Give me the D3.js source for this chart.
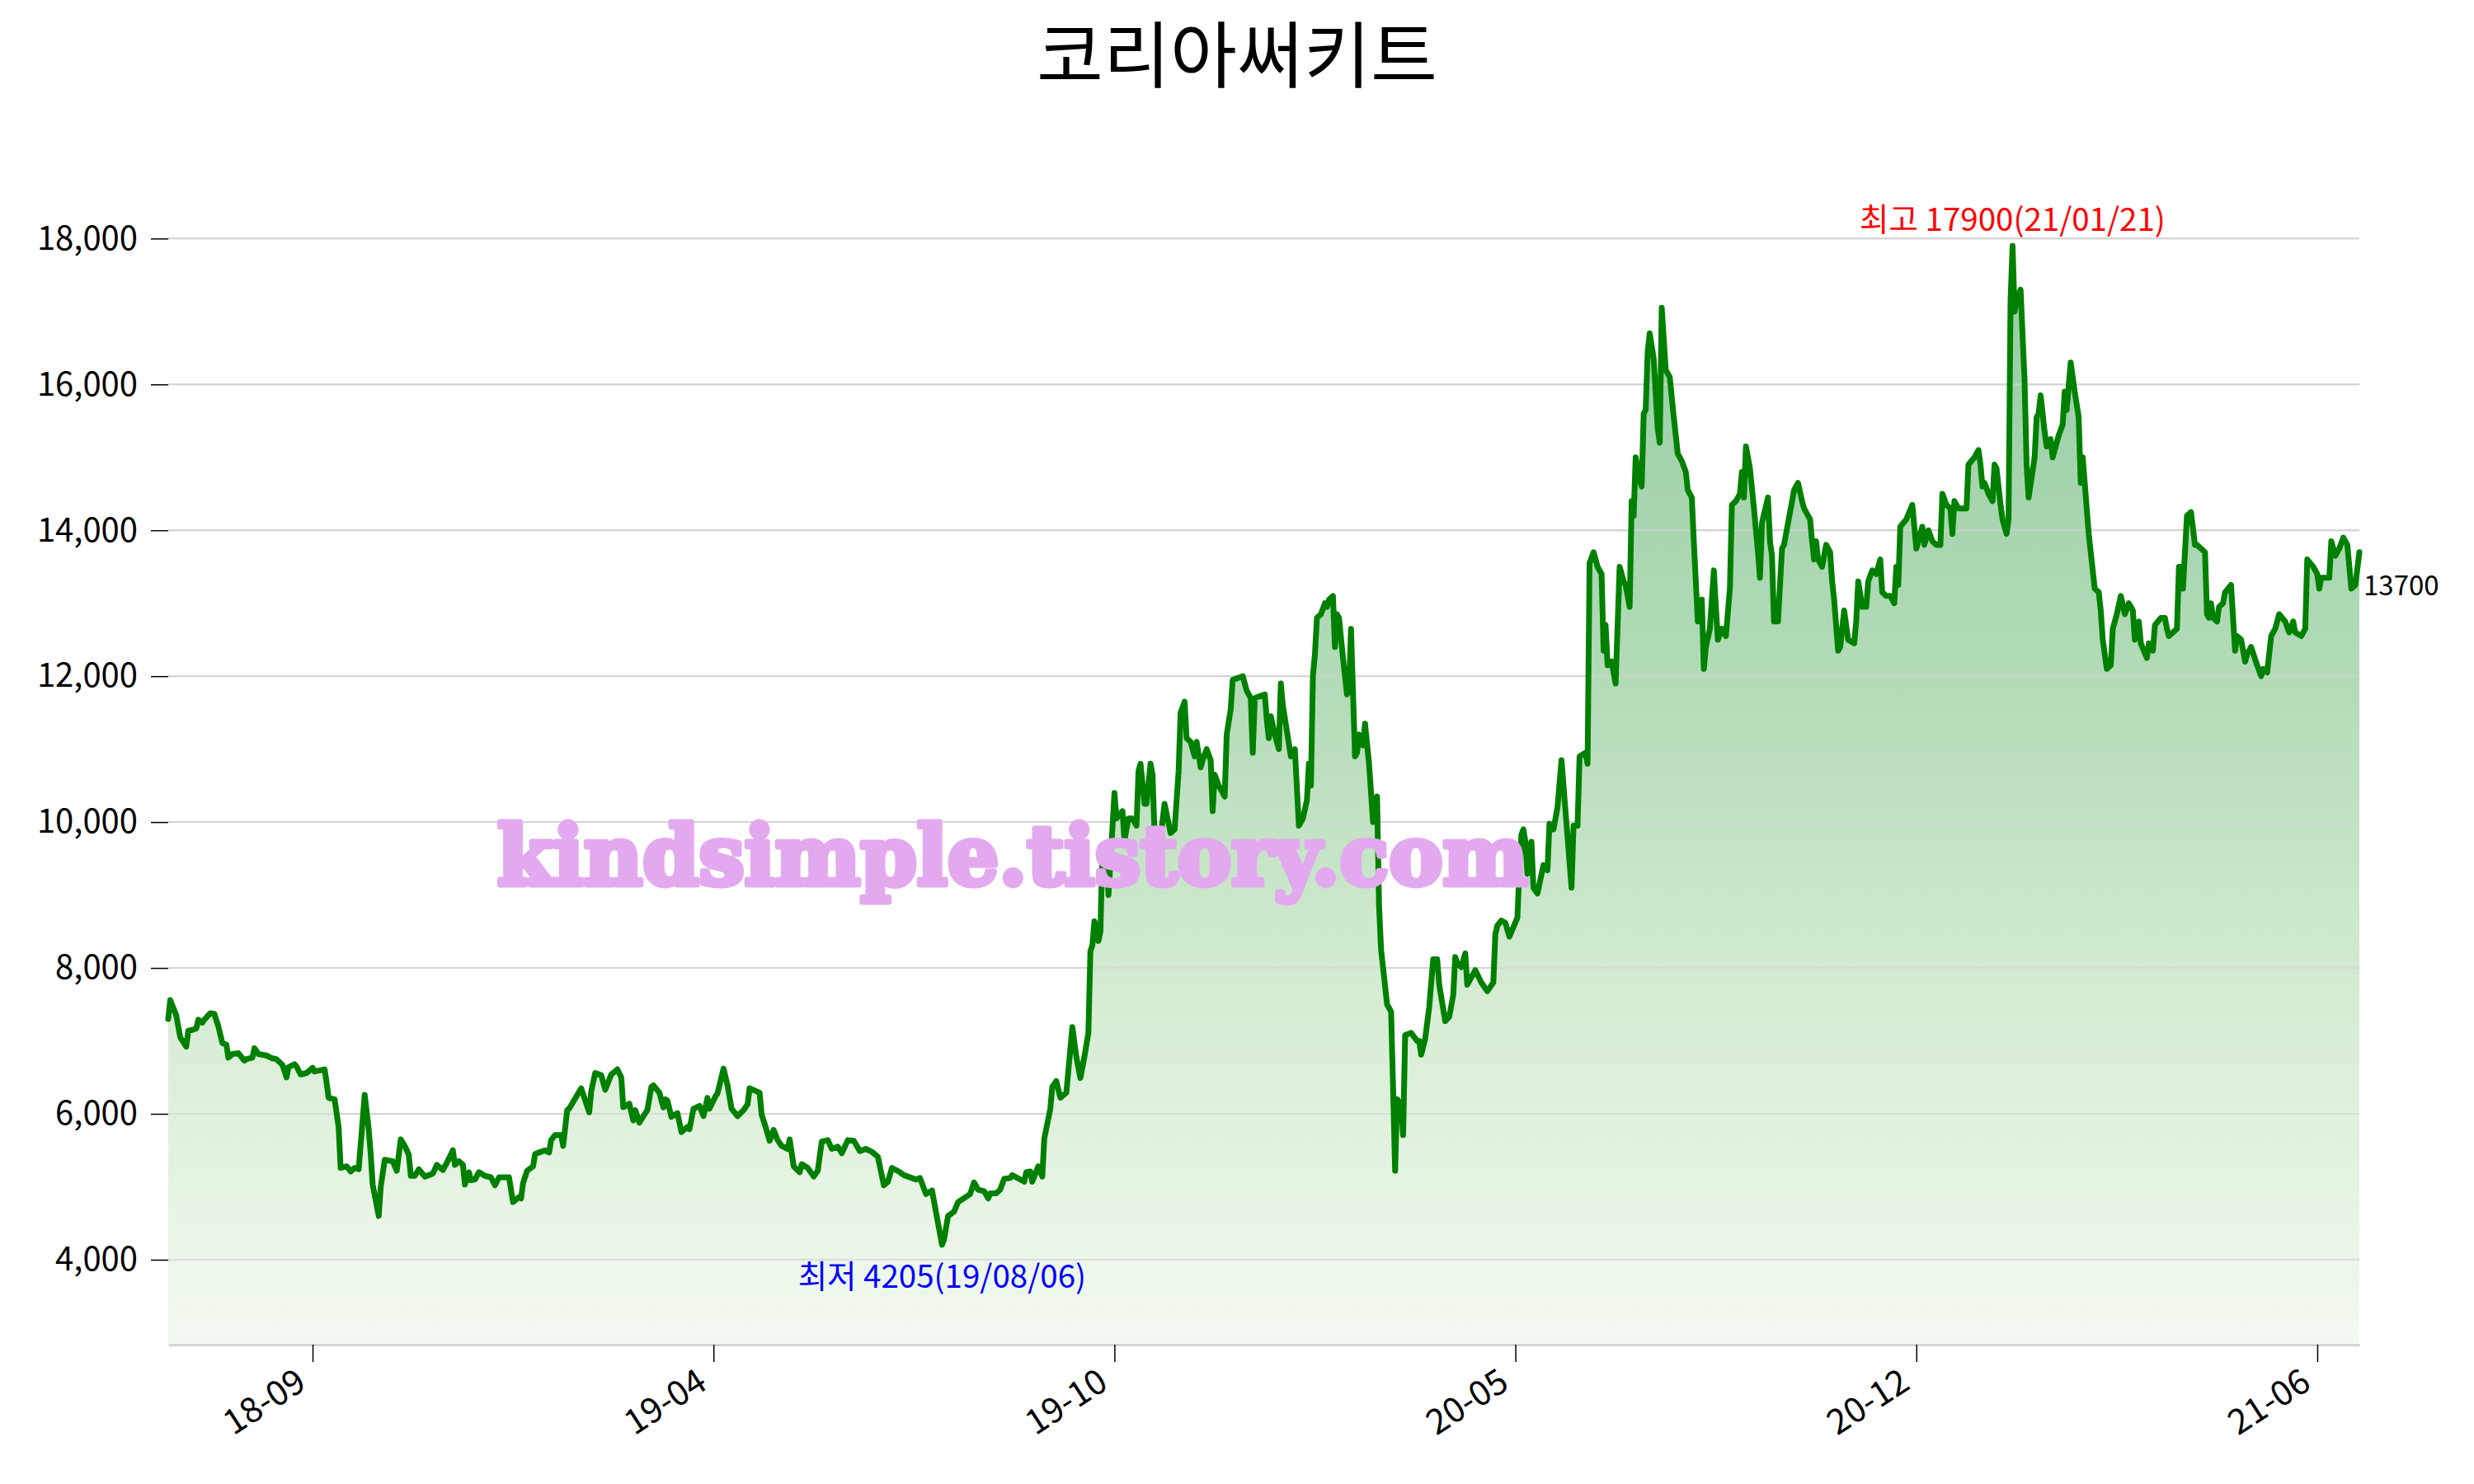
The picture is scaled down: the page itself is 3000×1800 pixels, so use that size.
<!DOCTYPE html>
<html>
<head>
<meta charset="utf-8">
<script src="https://cdn.jsdelivr.net/npm/d3@7"></script>
<style>
  html, body { margin: 0; padding: 0; background: #fff; overflow: hidden; }
  svg { display: block; font-family: "Noto Sans CJK KR", "Noto Sans", sans-serif; }
</style>
</head>
<body>
<svg width="3000" height="1800"></svg>
<script>
const title = '코리아써키트';
const watermark = 'kindsimple.tistory.com';

// closing prices, one pair of arrays per year
const dates2018 = [
  '18-07-16','18-07-17','18-07-20','18-07-22','18-07-25','18-07-26','18-07-28','18-07-30','18-07-31',
  '18-08-02','18-08-03','18-08-06','18-08-08','18-08-10','18-08-12','18-08-14','18-08-15','18-08-17','18-08-20','18-08-23','18-08-24','18-08-27','18-08-28','18-08-30',
  '18-09-03','18-09-06','18-09-08','18-09-11','18-09-13','18-09-14','18-09-17','18-09-18','18-09-20','18-09-23','18-09-26','18-09-27',
  '18-10-02','18-10-03','18-10-04','18-10-07','18-10-09','18-10-10','18-10-13','18-10-15','18-10-17','18-10-19','18-10-22','18-10-24','18-10-25','18-10-26','18-10-29','18-10-30',
  '18-11-01','18-11-05','18-11-07','18-11-09','18-11-11','18-11-13','18-11-14','18-11-16','18-11-18','18-11-21','18-11-23','18-11-25','18-11-27','18-11-30',
  '18-12-02','18-12-05','18-12-06','18-12-08','18-12-10','18-12-11','18-12-13','18-12-14','18-12-16','18-12-18','18-12-21','18-12-24','18-12-26','18-12-28'
];
const prices2018 = [
  7300,7560,7350,7050,6920,7140,7150,7170,7290,
  7250,7290,7380,7370,7200,6970,6950,6770,6820,6830,6730,6750,6770,6900,6820,
  6800,6760,6750,6670,6500,6640,6680,6650,6540,6560,6630,6580,
  6610,6430,6220,6200,5820,5260,5280,5210,5260,5240,6260,5790,5450,5030,4600,5000,
  5370,5350,5220,5650,5560,5440,5150,5150,5240,5140,5160,5180,5300,5230,
  5330,5500,5300,5350,5300,5030,5200,5090,5100,5200,5150,5130,5020,5130
];

const dates2019 = [
  '19-01-02','19-01-04','19-01-07','19-01-08','19-01-09','19-01-11','19-01-14','19-01-15','19-01-17','19-01-20','19-01-22','19-01-23','19-01-25','19-01-28','19-01-29','19-01-31',
  '19-02-01','19-02-07','19-02-11','19-02-12','19-02-14','19-02-17','19-02-19','19-02-22','19-02-25','19-02-27','19-02-28',
  '19-03-03','19-03-05','19-03-06','19-03-08','19-03-11','19-03-12','19-03-14','19-03-15','19-03-18','19-03-20','19-03-21','19-03-22','19-03-24','19-03-27','19-03-29',
  '19-04-01','19-04-02','19-04-04','19-04-07','19-04-09','19-04-11','19-04-12','19-04-15','19-04-16','19-04-19','19-04-21','19-04-23','19-04-26','19-04-29',
  '19-05-01','19-05-02','19-05-07','19-05-08','19-05-10','19-05-12','19-05-14','19-05-16','19-05-18','19-05-21','19-05-22','19-05-24','19-05-27','19-05-28','19-05-31',
  '19-06-03','19-06-05','19-06-07','19-06-10','19-06-12','19-06-15','19-06-17','19-06-20','19-06-23','19-06-26','19-06-29',
  '19-07-02','19-07-05','19-07-08','19-07-10','19-07-12','19-07-16','19-07-18','19-07-24','19-07-26','19-07-29',
  '19-08-01','19-08-04','19-08-06','19-08-07','19-08-09','19-08-12','19-08-14','19-08-20','19-08-22','19-08-24','19-08-27','19-08-29','19-08-30',
  '19-09-02','19-09-04','19-09-06','19-09-09','19-09-10','19-09-16','19-09-17','19-09-19','19-09-20','19-09-23','19-09-25','19-09-26','19-09-29','19-09-30',
  '19-10-02','19-10-04','19-10-07','19-10-10','19-10-12','19-10-14','19-10-16','19-10-18','19-10-19','19-10-20','19-10-21','19-10-23','19-10-24','19-10-25','19-10-27','19-10-28','19-10-29','19-10-31',
  '19-11-01','19-11-04','19-11-05','19-11-07','19-11-09','19-11-11','19-11-12','19-11-13','19-11-15','19-11-16','19-11-18','19-11-19','19-11-20','19-11-23','19-11-25','19-11-28','19-11-30',
  '19-12-02','19-12-03','19-12-05','19-12-06','19-12-08','19-12-10','19-12-11','19-12-13','19-12-14','19-12-16','19-12-18','19-12-19','19-12-20','19-12-22','19-12-25','19-12-26','19-12-28','19-12-29'
];
const prices2019 = [
  5130,4790,4860,4840,5050,5220,5280,5450,5470,5500,5470,5640,5710,5710,5560,6050,
  6070,6350,6020,6310,6560,6530,6330,6540,6610,6500,6090,
  6140,5910,6050,5880,6010,6050,6370,6390,6290,6090,6200,6180,5960,6010,5750,
  5820,5790,6070,6110,5970,6220,6070,6240,6280,6620,6390,6070,5970,6050,
  6130,6350,6290,5990,5820,5630,5780,5640,5560,5520,5650,5280,5200,5310,5260,
  5140,5220,5620,5640,5520,5550,5460,5640,5630,5490,5520,
  5480,5410,5020,5070,5260,5200,5160,5100,5120,4900,
  4950,4500,4205,4280,4600,4660,4790,4900,5060,4960,4940,4840,4910,
  4910,4960,5110,5120,5160,5070,5200,5210,5070,5280,5140,5660,6070,6370,
  6450,6220,6290,7190,6780,6490,6780,7110,8230,8310,8640,8370,8500,9630,9570,9000,9440,10400,
  10050,10150,9750,10050,10050,9950,10700,10800,10250,10250,10800,10650,9850,9800,10250,9850,9900,
  10700,11500,11650,11150,11100,10900,11100,10750,10850,11000,10850,10150,10650,10500,10350,11200,11550,11950
];

const dates2020 = [
  '20-01-03','20-01-05','20-01-07','20-01-08','20-01-09','20-01-14','20-01-15','20-01-16','20-01-17','20-01-19','20-01-21','20-01-22','20-01-23','20-01-25','20-01-27','20-01-29','20-01-31',
  '20-02-02','20-02-04','20-02-05','20-02-06','20-02-07','20-02-08','20-02-09','20-02-11','20-02-13','20-02-14','20-02-15','20-02-17','20-02-18','20-02-19','20-02-20','20-02-22','20-02-24','20-02-25','20-02-26','20-02-28','20-02-29',
  '20-03-01','20-03-03','20-03-04','20-03-06','20-03-07','20-03-08','20-03-10','20-03-11','20-03-12','20-03-14','20-03-15','20-03-17','20-03-18','20-03-19','20-03-20','20-03-22','20-03-23','20-03-24','20-03-27','20-03-30','20-03-31',
  '20-04-01','20-04-03','20-04-05','20-04-07','20-04-09','20-04-10','20-04-13','20-04-15','20-04-17','20-04-18','20-04-19','20-04-21','20-04-23','20-04-24','20-04-28',
  '20-05-01','20-05-04','20-05-07','20-05-08','20-05-09','20-05-11','20-05-13','20-05-15','20-05-19','20-05-20','20-05-21','20-05-22','20-05-23','20-05-24','20-05-26','20-05-27','20-05-29',
  '20-06-01','20-06-03','20-06-04','20-06-06','20-06-08','20-06-10','20-06-15','20-06-16','20-06-18','20-06-19','20-06-22','20-06-23','20-06-24','20-06-26','20-06-28','20-06-30',
  '20-07-01','20-07-02','20-07-03','20-07-05','20-07-07','20-07-09','20-07-11','20-07-12','20-07-14','20-07-15','20-07-16','20-07-17','20-07-19','20-07-20','20-07-21','20-07-22','20-07-23','20-07-24','20-07-26','20-07-28','20-07-29','20-07-30',
  '20-08-01','20-08-03','20-08-05','20-08-07','20-08-09','20-08-11','20-08-12','20-08-14','20-08-15','20-08-17','20-08-19','20-08-20','20-08-21','20-08-23','20-08-25','20-08-26','20-08-27','20-08-29','20-08-31',
  '20-09-02','20-09-03','20-09-05','20-09-07','20-09-08','20-09-09','20-09-10','20-09-12','20-09-14','20-09-16','20-09-17','20-09-18','20-09-21','20-09-22','20-09-23','20-09-24','20-09-26','20-09-28','20-09-29',
  '20-10-01','20-10-04','20-10-06','20-10-08','20-10-09','20-10-12','20-10-13','20-10-14','20-10-15','20-10-16','20-10-18','20-10-20','20-10-22','20-10-23','20-10-24','20-10-26','20-10-27','20-10-29','20-10-31',
  '20-11-03','20-11-04','20-11-05','20-11-07','20-11-09','20-11-10','20-11-12','20-11-14','20-11-16','20-11-17','20-11-19','20-11-21','20-11-23','20-11-24','20-11-25','20-11-26','20-11-29',
  '20-12-02','20-12-04','20-12-07','20-12-08','20-12-10','20-12-12','20-12-14','20-12-16','20-12-17','20-12-19','20-12-21','20-12-22','20-12-23','20-12-25','20-12-29','20-12-30'
];
const prices2020 = [
  12000,11800,11700,10950,11700,11750,11400,11150,11450,11200,11000,11900,11600,11250,10900,11000,9950,
  10050,10300,10800,10500,12000,12300,12800,12850,13000,12950,13050,13100,12400,12850,12800,12250,11750,11800,12650,10900,10950,
  11200,11050,11350,10800,10400,10000,10350,8850,8250,7750,7500,7400,6350,5220,6200,6120,5710,7080,7110,7000,7000,
  6810,7030,7460,8120,8120,7770,7270,7330,7630,8150,8070,8010,8200,7770,7970,
  7800,7680,7800,8460,8580,8650,8620,8430,8690,9340,9830,9900,9730,9290,9730,9100,9020,
  9410,9340,9980,9900,10200,10850,9100,9950,9950,10900,10950,10800,13550,13700,13500,13400,
  12350,12700,12150,12200,11900,13500,13300,13250,12950,14400,14200,15000,14700,14600,15600,15650,16450,16700,16350,15400,15200,17050,
  16200,16100,15550,15050,14950,14800,14550,14450,13850,12750,13050,12100,12400,12650,13450,12950,12500,12650,12550,
  13200,14350,14400,14500,14800,14450,15150,14850,14300,13700,13350,14100,14450,13850,13650,12750,12750,13750,13800,
  14100,14550,14650,14400,14300,14150,13850,13600,13850,13600,13500,13800,13700,13300,13050,12350,12400,12900,12500,
  12450,12750,13300,12950,12950,13300,13450,13400,13600,13150,13100,13100,13000,13500,13250,14050,14150,
  14350,13750,14050,13800,14000,13850,13800,13800,14500,14350,14300,13950,14400,14300,14300,14900
];

const dates2021 = [
  '21-01-02','21-01-04','21-01-05','21-01-06','21-01-07','21-01-09','21-01-11','21-01-12','21-01-13','21-01-15','21-01-16','21-01-18','21-01-19','21-01-20','21-01-21','21-01-22','21-01-23','21-01-25','21-01-27','21-01-28','21-01-29',
  '21-02-01','21-02-02','21-02-03','21-02-04','21-02-06','21-02-07','21-02-09','21-02-10','21-02-13','21-02-15','21-02-16','21-02-17','21-02-19','21-02-21','21-02-23','21-02-24','21-02-25','21-02-28',
  '21-03-02','21-03-03','21-03-05','21-03-06','21-03-07','21-03-09','21-03-11','21-03-12','21-03-14','21-03-16','21-03-18','21-03-20','21-03-22','21-03-23','21-03-25','21-03-26','21-03-29','21-03-30',
  '21-04-01','21-04-02','21-04-05','21-04-07','21-04-08','21-04-09','21-04-13','21-04-14','21-04-15','21-04-16','21-04-18','21-04-20','21-04-22','21-04-23','21-04-27','21-04-28','21-04-29','21-04-30',
  '21-05-01','21-05-03','21-05-04','21-05-06','21-05-07','21-05-10','21-05-12','21-05-13','21-05-15','21-05-17','21-05-18','21-05-20','21-05-23','21-05-25','21-05-26','21-05-28','21-05-30',
  '21-06-01','21-06-03','21-06-06','21-06-08','21-06-10','21-06-11','21-06-14','21-06-16','21-06-17','21-06-20','21-06-22','21-06-23','21-06-24','21-06-28','21-06-29','21-06-30',
  '21-07-01','21-07-03','21-07-05','21-07-07','21-07-09','21-07-11','21-07-13'
];
const prices2021 = [
  15000,15100,14900,14600,14650,14500,14400,14900,14850,14350,14150,13950,14150,17150,17900,17000,17150,17300,16050,14900,14450,
  15000,15550,15600,15850,15350,15150,15250,15000,15300,15450,15900,15650,16300,15900,15550,14650,15000,13950,
  13450,13200,13150,12900,12500,12100,12150,12650,12850,13100,12850,13000,12900,12500,12750,12450,12250,12450,
  12350,12700,12800,12800,12650,12550,12650,13500,13500,13200,14200,14250,13800,13800,13700,12850,12800,13000,
  12800,12750,12950,13000,13150,13250,12350,12550,12500,12200,12300,12400,12150,12000,12100,12050,12550,
  12650,12850,12750,12600,12750,12600,12550,12650,13600,13500,13400,13200,13350,13350,13850,13750,
  13650,13750,13900,13800,13200,13250,13700
];

const yTicks = [4000, 6000, 8000, 10000, 12000, 14000, 16000, 18000];
const xTicks = ['18-09-26', '19-04-14', '19-10-31', '20-05-18', '20-12-04', '21-06-22'];
const xStart = '18-07-16';
const xEnd = '21-07-13';

const svg = d3.select('svg');
const width = +svg.attr('width');
const height = +svg.attr('height');
const margin = {top: 177, right: 139, bottom: 169, left: 204};
const innerWidth = width - margin.left - margin.right;
const innerHeight = height - margin.top - margin.bottom;

const parse = d3.utcParse('%y-%m-%d');
const data = [[dates2018, prices2018], [dates2019, prices2019], [dates2020, prices2020], [dates2021, prices2021]]
  .flatMap(([ds, ps]) => ds.slice(0, ps.length).map((d, i) => ({date: parse(d), price: ps[i]})));

const hi = d3.greatest(data, d => d.price);
const lo = d3.least(data, d => d.price);
const last = data[data.length - 1];
const pad = (hi.price - lo.price) * 0.1;

const xScale = d3.scaleUtc()
  .domain([parse(xStart), parse(xEnd)])
  .range([0, innerWidth]);
const yScale = d3.scaleLinear()
  .domain([lo.price - pad, hi.price + pad])
  .range([innerHeight, 0]);

// gradient for the area under the line
const grad = svg.append('defs').append('linearGradient')
  .attr('id', 'areaFill')
  .attr('gradientUnits', 'userSpaceOnUse')
  .attr('x1', 0).attr('x2', 0)
  .attr('y1', yScale(hi.price)).attr('y2', innerHeight);
grad.append('stop').attr('offset', 0).attr('stop-color', '#94cca3');
grad.append('stop').attr('offset', 0.4).attr('stop-color', '#b3dbb8');
grad.append('stop').attr('offset', 0.7).attr('stop-color', '#d7edd4');
grad.append('stop').attr('offset', 1).attr('stop-color', '#f3f9f1');

svg.append('text')
  .attr('x', 1500)
  .attr('y', 99)
  .attr('text-anchor', 'middle')
  .attr('font-size', 88)
  .attr('fill', '#000')
  .text(title);

const g = svg.append('g')
  .attr('transform', `translate(${margin.left},${margin.top})`);

g.selectAll('line.grid').data(yTicks)
  .enter().append('line')
    .attr('class', 'grid')
    .attr('x1', 0).attr('x2', innerWidth)
    .attr('y1', d => yScale(d)).attr('y2', d => yScale(d))
    .attr('stroke', '#d3d3d3')
    .attr('stroke-width', 2);

const area = d3.area()
  .x(d => xScale(d.date))
  .y0(innerHeight)
  .y1(d => yScale(d.price));
const line = d3.line()
  .x(d => xScale(d.date))
  .y(d => yScale(d.price));

g.append('path')
  .datum(data)
  .attr('d', area)
  .attr('fill', 'url(#areaFill)');

// gridlines show through the fill
g.selectAll('line.grid2').data(yTicks)
  .enter().append('line')
    .attr('x1', 0).attr('x2', innerWidth)
    .attr('y1', d => yScale(d)).attr('y2', d => yScale(d))
    .attr('stroke', '#d3d3d3')
    .attr('stroke-opacity', 0.7)
    .attr('stroke-width', 2);

g.append('path')
  .datum(data)
  .attr('d', line)
  .attr('fill', 'none')
  .attr('stroke', '#008000')
  .attr('stroke-width', 7)
  .attr('stroke-linejoin', 'round')
  .attr('stroke-linecap', 'round');

const yAxisG = g.append('g')
  .call(d3.axisLeft(yScale)
    .tickValues(yTicks)
    .tickFormat(d3.format(','))
    .tickSize(21)
    .tickPadding(16));
yAxisG.select('.domain').remove();
yAxisG.selectAll('.tick line').attr('stroke', '#000').attr('stroke-width', 1.5);
yAxisG.selectAll('.tick text')
  .attr('font-size', 40)
  .attr('font-family', '"Noto Sans CJK KR", "Noto Sans", sans-serif')
  .attr('fill', '#000');

const xAxisG = g.append('g')
  .attr('transform', `translate(0,${innerHeight})`)
  .call(d3.axisBottom(xScale)
    .tickValues(xTicks.map(parse))
    .tickFormat(d3.utcFormat('%y-%m'))
    .tickSize(21)
    .tickSizeOuter(0));
xAxisG.select('.domain').attr('stroke', '#d3d3d3').attr('stroke-width', 3);
xAxisG.selectAll('.tick line').attr('stroke', '#000').attr('stroke-width', 1.5);
xAxisG.selectAll('.tick text')
  .attr('font-size', 42)
  .attr('font-family', '"Noto Sans CJK KR", "Noto Sans", sans-serif')
  .attr('fill', '#000')
  .attr('text-anchor', 'end')
  .attr('x', 0).attr('y', 0).attr('dy', 0)
  .attr('transform', 'translate(-6,52) rotate(-33)');

const fmt = d3.utcFormat('%y/%m/%d');
g.append('text')
  .attr('x', xScale(hi.date))
  .attr('y', yScale(hi.price) - 18)
  .attr('text-anchor', 'middle')
  .attr('font-size', 38.5)
  .attr('fill', 'red')
  .text(`최고 ${hi.price}(${fmt(hi.date)})`);

g.append('text')
  .attr('x', xScale(lo.date))
  .attr('y', yScale(lo.price) + 52)
  .attr('text-anchor', 'middle')
  .attr('font-size', 38.5)
  .attr('fill', 'blue')
  .text(`최저 ${lo.price}(${fmt(lo.date)})`);

g.append('text')
  .attr('x', xScale(last.date) + 5)
  .attr('y', yScale(last.price) + 52)
  .attr('font-size', 33)
  .attr('fill', '#000')
  .text(last.price);

svg.append('text')
  .attr('x', 1228)
  .attr('y', 1073)
  .attr('text-anchor', 'middle')
  .attr('font-family', '"DejaVu Serif", serif')
  .attr('font-weight', 'bold')
  .attr('font-size', 100)
  .attr('textLength', 1250)
  .attr('lengthAdjust', 'spacingAndGlyphs')
  .attr('fill', '#e3a9ef')
  .attr('stroke', '#e3a9ef')
  .attr('stroke-width', 7)
  .attr('stroke-linejoin', 'round')
  .text(watermark);
</script>
</body>
</html>
